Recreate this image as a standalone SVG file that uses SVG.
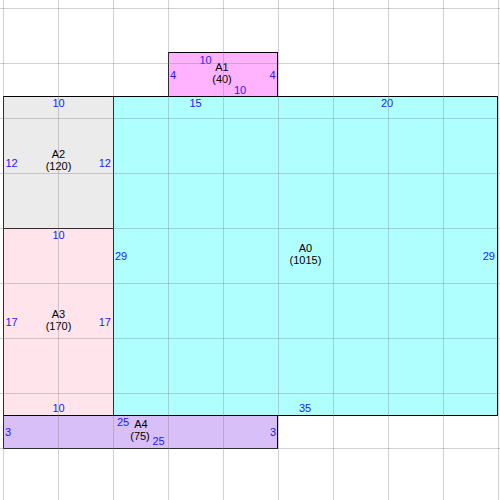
<svg xmlns="http://www.w3.org/2000/svg" width="500" height="500" viewBox="0 0 500 500">
<style>
.box{stroke:#000;stroke-width:1}
.lbl{font-family:"Liberation Sans",Arial,sans-serif;font-size:11px;fill:#000;text-anchor:middle}
.dim{font-family:"Liberation Sans",Arial,sans-serif;font-size:11px;fill:#1a1aff}
.c{text-anchor:middle}
.e{text-anchor:end}
.grid line{stroke:#808080;stroke-opacity:0.36;stroke-width:1}
</style>
<rect x="0" y="0" width="500" height="500" fill="#fff"/>
<g id="A1">
<rect class="box" x="168.5" y="52.5" width="109" height="44" fill="#ffb3ff"/>
<text class="lbl" x="222" y="70.5">A1</text>
<text class="lbl" x="222" y="82.5">(40)</text>
<text class="dim c" x="205.5" y="63.5">10</text>
<text class="dim" x="170" y="78.5">4</text>
<text class="dim e" x="275.5" y="78.5">4</text>
<text class="dim c" x="240" y="93.5">10</text>
</g>
<g id="A0">
<rect class="box" x="113.5" y="96.5" width="384" height="319" fill="#b0ffff"/>
<text class="lbl" x="305.5" y="252">A0</text>
<text class="lbl" x="305.5" y="264">(1015)</text>
<text class="dim c" x="195.5" y="106.5">15</text>
<text class="dim c" x="387" y="106.5">20</text>
<text class="dim" x="115" y="260">29</text>
<text class="dim e" x="495" y="260">29</text>
<text class="dim c" x="305" y="411.5">35</text>
</g>
<g id="A2">
<rect class="box" x="3.5" y="96.5" width="110" height="132" fill="#ebebeb"/>
<text class="lbl" x="58.5" y="158">A2</text>
<text class="lbl" x="58.5" y="170">(120)</text>
<text class="dim c" x="58.5" y="106.5">10</text>
<text class="dim" x="5.5" y="166.5">12</text>
<text class="dim e" x="111" y="166.5">12</text>
</g>
<g id="A3">
<rect class="box" x="3.5" y="228.5" width="110" height="187" fill="#ffe4ec"/>
<text class="lbl" x="58.5" y="317.5">A3</text>
<text class="lbl" x="58.5" y="329.5">(170)</text>
<text class="dim c" x="58.5" y="238.5">10</text>
<text class="dim" x="5.5" y="326">17</text>
<text class="dim e" x="111" y="326">17</text>
<text class="dim c" x="58.5" y="411.5">10</text>
</g>
<g id="A4">
<rect class="box" x="3.5" y="415.5" width="274" height="33" fill="#d9bff7"/>
<text class="lbl" x="141" y="427.5">A4</text>
<text class="lbl" x="140" y="440">(75)</text>
<text class="dim c" x="123" y="425.5">25</text>
<text class="dim c" x="158.5" y="444.5">25</text>
<text class="dim" x="5" y="436">3</text>
<text class="dim e" x="276" y="436">3</text>
</g>
<g class="grid">
<line x1="3.5" y1="0" x2="3.5" y2="500"/>
<line x1="58.5" y1="0" x2="58.5" y2="500"/>
<line x1="113.5" y1="0" x2="113.5" y2="500"/>
<line x1="168.5" y1="0" x2="168.5" y2="500"/>
<line x1="223.5" y1="0" x2="223.5" y2="500"/>
<line x1="278.5" y1="0" x2="278.5" y2="500"/>
<line x1="333.5" y1="0" x2="333.5" y2="500"/>
<line x1="388.5" y1="0" x2="388.5" y2="500"/>
<line x1="443.5" y1="0" x2="443.5" y2="500"/>
<line x1="498.5" y1="0" x2="498.5" y2="500"/>
<line x1="0" y1="8.5" x2="500" y2="8.5"/>
<line x1="0" y1="63.5" x2="500" y2="63.5"/>
<line x1="0" y1="118.5" x2="500" y2="118.5"/>
<line x1="0" y1="173.5" x2="500" y2="173.5"/>
<line x1="0" y1="228.5" x2="500" y2="228.5"/>
<line x1="0" y1="283.5" x2="500" y2="283.5"/>
<line x1="0" y1="338.5" x2="500" y2="338.5"/>
<line x1="0" y1="393.5" x2="500" y2="393.5"/>
<line x1="0" y1="448.5" x2="500" y2="448.5"/>
</g>
</svg>
